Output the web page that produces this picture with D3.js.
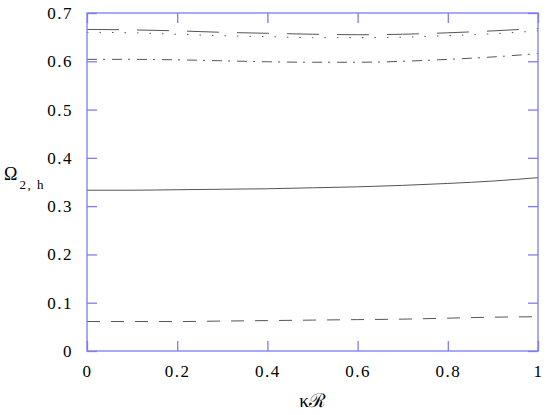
<!DOCTYPE html>
<html>
<head>
<meta charset="utf-8">
<script src="https://cdn.jsdelivr.net/npm/d3@7"></script>
<style>
  body { margin: 0; background: #fff; }
</style>
</head>
<body>
<div id="chart"></div>
<script>
// data
let kR = [0, 0.1, 0.2, 0.3, 0.4, 0.5, 0.6, 0.7, 0.8, 0.9, 1.0];
let longDash = [0.666, 0.665, 0.663, 0.660, 0.658, 0.656, 0.655, 0.656, 0.659, 0.663, 0.668];
let dotted = [0.660, 0.659, 0.656, 0.653, 0.651, 0.649, 0.649, 0.650, 0.653, 0.657, 0.663];
let dashDot = [0.604, 0.604, 0.603, 0.601, 0.599, 0.598, 0.598, 0.600, 0.604, 0.609, 0.616];
let solid = [0.333, 0.333, 0.334, 0.335, 0.336, 0.338, 0.340, 0.343, 0.347, 0.352, 0.359];
let dashed = [0.061, 0.061, 0.061, 0.062, 0.063, 0.064, 0.065, 0.066, 0.068, 0.070, 0.071];

let xTicks = [0, 0.2, 0.4, 0.6, 0.8, 1];
let yTicks = [0, 0.1, 0.2, 0.3, 0.4, 0.5, 0.6, 0.7];

let series = [
  { values: longDash, dash: "32,18" },
  { values: dotted, dash: "1.5,11" },
  { values: dashDot, dash: "10,6,2,7" },
  { values: solid, dash: null },
  { values: dashed, dash: "13,11" }
];

let width = 554, height = 415;
let margin = { left: 87, top: 13, right: 16, bottom: 64 };
let frameColor = "#7c7cf2";
let serif = "'Liberation Serif', 'Times New Roman', serif";

let svg = d3.select("#chart").append("svg")
  .attr("width", width)
  .attr("height", height);

let x = d3.scaleLinear().domain([0, 1]).range([margin.left, width - margin.right]);
let y = d3.scaleLinear().domain([0, 0.7]).range([height - margin.bottom, margin.top]);

// curves
let line = d3.line()
  .x((d, i) => x(kR[i]))
  .y(d => y(d))
  .curve(d3.curveMonotoneX);

series.forEach(s => {
  svg.append("path")
    .attr("d", line(s.values))
    .attr("fill", "none")
    .attr("stroke", "#555")
    .attr("stroke-width", 1)
    .attr("stroke-dasharray", s.dash);
});

// axes, ticks pointing inward on all four sides
let fmt = d => d === 0 ? "0" : d === 1 ? "1" : d3.format(".1f")(d);

let axisB = svg.append("g")
  .attr("transform", `translate(0,${height - margin.bottom})`)
  .call(d3.axisBottom(x).tickValues(xTicks).tickSize(-10).tickPadding(14).tickFormat(fmt));
let axisT = svg.append("g")
  .attr("transform", `translate(0,${margin.top})`)
  .call(d3.axisTop(x).tickValues(xTicks).tickSize(-10).tickFormat(""));
let axisL = svg.append("g")
  .attr("transform", `translate(${margin.left},0)`)
  .call(d3.axisLeft(y).tickValues(yTicks).tickSize(-10).tickPadding(14).tickFormat(fmt));
let axisR = svg.append("g")
  .attr("transform", `translate(${width - margin.right},0)`)
  .call(d3.axisRight(y).tickValues(yTicks).tickSize(-10).tickFormat(""));

[axisB, axisT, axisL, axisR].forEach(g => {
  g.select(".domain").remove();
  g.selectAll(".tick line").attr("stroke", frameColor).attr("stroke-width", 1.3);
  g.selectAll(".tick text")
    .style("font-family", serif)
    .style("font-size", "17px")
    .attr("letter-spacing", 1.5)
    .attr("fill", "#000");
});

svg.append("rect")
  .attr("x", margin.left)
  .attr("y", margin.top)
  .attr("width", width - margin.left - margin.right)
  .attr("height", height - margin.top - margin.bottom)
  .attr("fill", "none")
  .attr("stroke", frameColor)
  .attr("stroke-width", 1.3);

// axis titles
svg.append("text")
  .attr("x", (margin.left + width - margin.right) / 2)
  .attr("y", 407)
  .attr("text-anchor", "middle")
  .style("font-family", serif)
  .style("font-size", "19px")
  .text("κℛ");

let yt = svg.append("text")
  .attr("x", 4)
  .attr("y", 180)
  .style("font-family", serif)
  .style("font-size", "18px");
yt.append("tspan").text("Ω");
yt.append("tspan")
  .attr("dx", 2)
  .attr("dy", 9)
  .style("font-size", "13px")
  .attr("letter-spacing", 1.5)
  .text("2, h");
</script>
</body>
</html>
